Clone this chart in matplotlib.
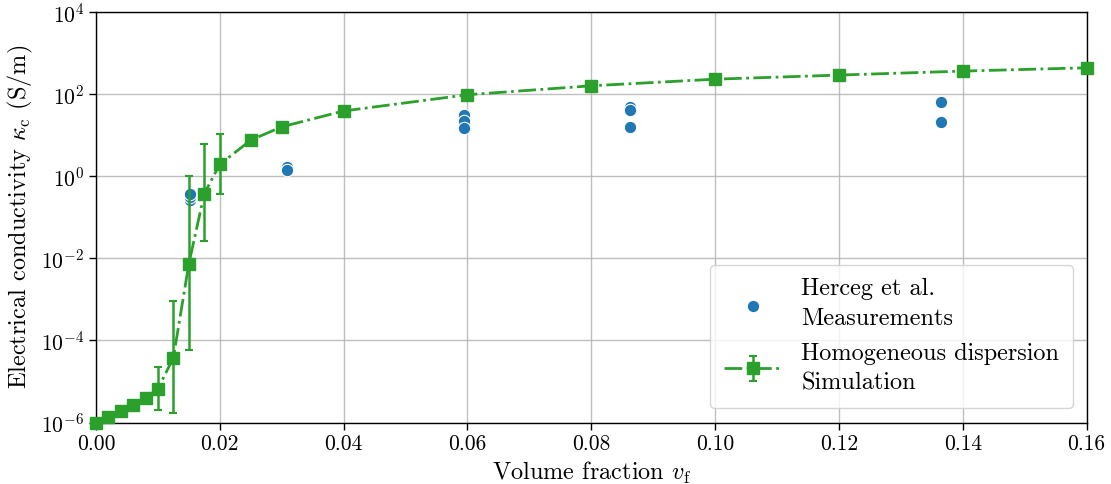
import matplotlib
matplotlib.use("Agg")
import matplotlib.pyplot as plt
import numpy as np

# LaTeX-like look
plt.rcParams['font.family'] = 'serif'
plt.rcParams['font.serif'] = ['cmr10', 'DejaVu Serif']
plt.rcParams['mathtext.fontset'] = 'cm'
plt.rcParams['axes.unicode_minus'] = False
plt.rcParams['axes.formatter.use_mathtext'] = True

# measurements (Herceg et al.)
meas_vf = [0.0152, 0.0152, 0.0152, 0.0308, 0.0308,
           0.0595, 0.0595, 0.0595, 0.0863, 0.0863, 0.0863,
           0.1365, 0.1365]
meas_kappa = [0.27, 0.31, 0.37, 1.65, 1.4,
              31, 22, 15, 50, 42, 16,
              65, 21]

# simulation (homogeneous dispersion)
sim_vf = [0.0, 0.002, 0.004, 0.006, 0.008, 0.010, 0.0125, 0.015, 0.0175,
          0.020, 0.025, 0.030, 0.040, 0.060, 0.080, 0.100, 0.120, 0.140, 0.160]
sim_kappa = [1.0e-6, 1.35e-6, 1.95e-6, 2.75e-6, 4.0e-6, 6.6e-6, 3.8e-5, 7.4e-3, 0.38,
             1.95, 7.6, 16, 39, 97, 160, 232, 292, 365, 440]
sim_upper = [1.0e-6, 1.35e-6, 1.95e-6, 2.75e-6, 4.0e-6, 2.3e-5, 9.1e-4, 1.0, 6.0,
             11, 7.6, 16, 39, 97, 160, 232, 292, 365, 440]
sim_lower = [1.0e-6, 1.35e-6, 1.95e-6, 2.75e-6, 4.0e-6, 2.0e-6, 1.7e-6, 5.9e-5, 0.026,
             0.36, 7.6, 16, 39, 97, 160, 232, 292, 365, 440]

blue = '#1f77b4'
green = '#2ca02c'

fig = plt.figure(figsize=(11.11, 4.84), dpi=100)
ax = fig.add_axes([0.0864, 0.127, 0.978 - 0.0864, 0.975 - 0.127])

ax.scatter(meas_vf, meas_kappa, s=80, color=blue, edgecolor='white', linewidth=0.8,
           zorder=3, label='Herceg et al.\nMeasurements')

yerr = [np.array(sim_kappa) - np.array(sim_lower), np.array(sim_upper) - np.array(sim_kappa)]
eb = ax.errorbar(sim_vf, sim_kappa, yerr=yerr, fmt='-.s', color=green, lw=2, ms=9,
                 elinewidth=1.8, capsize=3, capthick=1.5, zorder=4,
                 label='Homogeneous dispersion\nSimulation')
eb.lines[0].set_clip_on(False)

ax.set_yscale('log')
ax.set_xlim(0, 0.16)
ax.set_ylim(1e-6, 1e4)
ax.set_yticks([1e-6, 1e-4, 1e-2, 1e0, 1e2, 1e4])
ax.minorticks_off()
ax.set_xticks(np.arange(0, 0.161, 0.02))
ax.set_xticklabels(['%.2f' % v for v in np.arange(0, 0.161, 0.02)])
ax.grid(True, color='#b0b0b0', lw=1.0, alpha=0.8)
ax.set_axisbelow(True)
ax.tick_params(labelsize=15.5, length=5, width=1)
for s in ax.spines.values():
    s.set_linewidth(1.0)
    s.set_color('black')

ax.set_xlabel(r'Volume fraction $v_\mathrm{f}$', fontsize=17.5)
ax.set_ylabel(r'Electrical conductivity $\kappa_\mathrm{c}$ (S/m)', fontsize=17.5)

leg = ax.legend(loc='lower right', fontsize=17.5, framealpha=0.8, borderpad=0.55,
                handletextpad=0.8, handlelength=2.4, labelspacing=0.5,
                borderaxespad=0, bbox_to_anchor=(0.986, 0.036))
for t in leg.get_texts():
    t.set_linespacing(1.45)

fig.savefig('out.png', dpi=100)
